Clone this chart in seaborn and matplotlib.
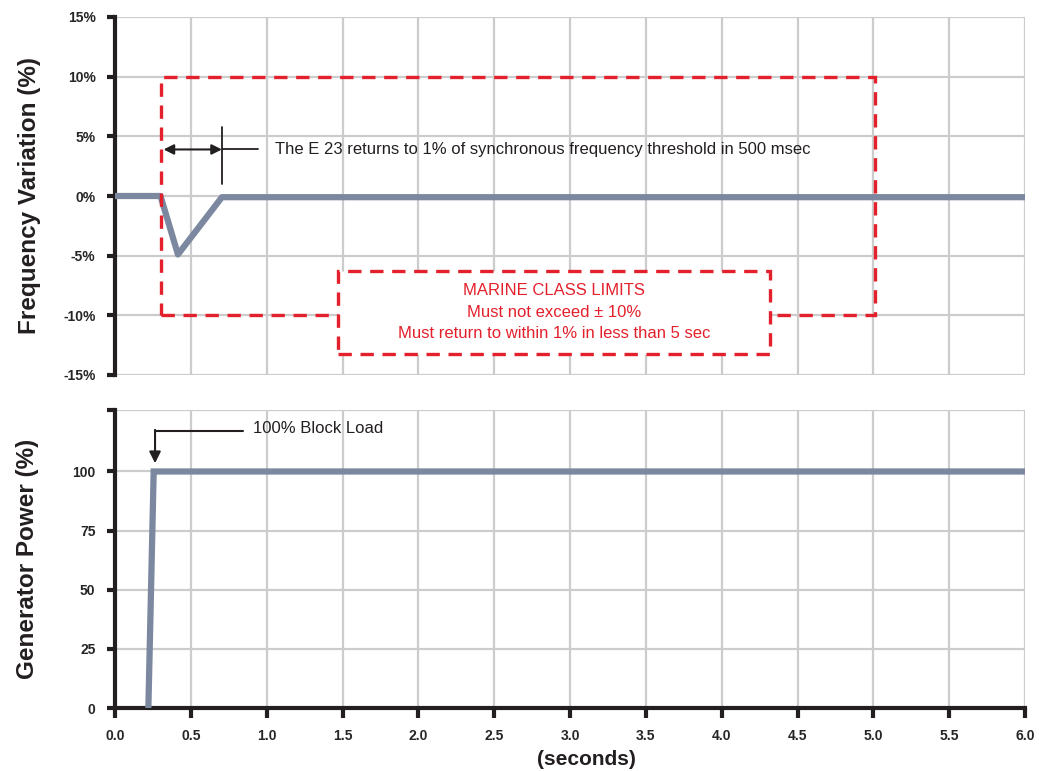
import matplotlib
matplotlib.use("Agg")
import matplotlib.pyplot as plt
import matplotlib.patches as patches
import numpy as np
import pandas as pd
import seaborn as sns

# data
time_freq = [0.0, 0.30, 0.415, 0.705, 6.0]
freq_var = [0.0, 0.0, -4.9, -0.1, -0.1]

time_power = [0.22, 0.255, 6.0]
gen_power = [0, 100, 100]

freq_ticks = [-15, -10, -5, 0, 5, 10, 15]
freq_labels = ["-15%", "-10%", "-5%", "0%", "5%", "10%", "15%"]
power_ticks = [0, 25, 50, 75, 100, 126]
power_labels = ["0", "25", "50", "75", "100", ""]
time_ticks = [0.0, 0.5, 1.0, 1.5, 2.0, 2.5, 3.0, 3.5, 4.0, 4.5, 5.0, 5.5, 6.0]

limit_box = (0.30, 5.01, -10, 10)      # marine class limits
text_box = (1.47, 4.32, -13.2, -6.3)   # label box

sns.set_style("white")
plt.rcParams["font.family"] = ["Liberation Sans Narrow", "Liberation Sans", "DejaVu Sans"]

line_col = "#7b889f"
red = "#e3202b"
grid_col = "#cccccc"
ink = "#231f20"

fig = plt.figure(figsize=(10.39, 7.71), dpi=100)
ax1 = fig.add_axes([115 / 1039, 1 - 375 / 771, 910 / 1039, 358 / 771])
ax2 = fig.add_axes([115 / 1039, 1 - 708 / 771, 910 / 1039, 298 / 771])

df_f = pd.DataFrame({"t": time_freq, "f": freq_var})
df_p = pd.DataFrame({"t": time_power, "p": gen_power})

for ax in (ax1, ax2):
    ax.set_xlim(0, 6)
    ax.set_xticks(time_ticks)
    ax.grid(True, color=grid_col, linewidth=1.6, zorder=0)
    ax.set_axisbelow(True)
    for s in ["top", "right"]:
        ax.spines[s].set_visible(False)
    ax.spines["left"].set_color(ink)
    ax.spines["left"].set_linewidth(3)
    ax.tick_params(axis="y", left=True, length=6, width=3, color=ink,
                   labelsize=10, pad=8)

# top panel
ax1.set_ylim(-15, 15)
ax1.set_yticks(freq_ticks)
ax1.set_yticklabels(freq_labels, fontweight="bold", fontsize=10)
ax1.spines["bottom"].set_visible(False)
ax1.tick_params(axis="x", length=0, labelbottom=False)
sns.lineplot(data=df_f, x="t", y="f", ax=ax1, color=line_col, linewidth=4.5,
             solid_joinstyle="round", solid_capstyle="butt", zorder=3)

x0, x1, y0, y1 = limit_box
ax1.add_patch(patches.Rectangle((x0, y0), x1 - x0, y1 - y0, fill=False,
                                edgecolor=red, linewidth=2.4,
                                linestyle=(0, (4, 2.6)), zorder=4))
bx0, bx1, by0, by1 = text_box
ax1.add_patch(patches.Rectangle((bx0, by0), bx1 - bx0, by1 - by0,
                                facecolor="white", edgecolor=red, linewidth=2.4,
                                linestyle=(0, (4, 2.6)), zorder=5))
ax1.text((bx0 + bx1) / 2, (by0 + by1) / 2,
         "MARINE CLASS LIMITS\nMust not exceed \u00b1 10%\nMust return to within 1% in less than 5 sec",
         color=red, ha="center", va="center", fontsize=12, linespacing=1.55,
         zorder=6)

ax1.annotate("", xy=(0.32, 3.9), xytext=(0.705, 3.9),
             arrowprops=dict(arrowstyle="<|-|>", color=ink, lw=1.5,
                             mutation_scale=15, shrinkA=0, shrinkB=0), zorder=6)
ax1.plot([0.705, 0.705], [1.0, 5.8], color=ink, lw=1.3, zorder=6)
ax1.plot([0.705, 0.94], [3.9, 3.9], color=ink, lw=1.3, zorder=6)
ax1.text(1.055, 3.9, "The E 23 returns to 1% of synchronous frequency threshold in 500 msec",
         ha="left", va="center", fontsize=12, color=ink, zorder=6)
ax1.set_xlabel("")
ax1.set_ylabel("Frequency Variation (%)", fontsize=17.5, fontweight="bold",
               color=ink, labelpad=16)

# bottom panel
ax2.set_ylim(0, 126)
ax2.set_yticks(power_ticks)
ax2.set_yticklabels(power_labels, fontweight="bold", fontsize=10)
ax2.spines["bottom"].set_color(ink)
ax2.spines["bottom"].set_linewidth(3)
ax2.tick_params(axis="x", bottom=True, length=7, width=3, color=ink,
                labelsize=10, pad=8)
for lbl in ax2.get_xticklabels():
    lbl.set_fontweight("bold")
sns.lineplot(data=df_p, x="t", y="p", ax=ax2, color=line_col, linewidth=4.5,
             solid_joinstyle="miter", zorder=3)

ax2.plot([0.264, 0.845], [117, 117], color=ink, lw=1.5, zorder=6)
ax2.annotate("", xy=(0.264, 103.5), xytext=(0.264, 117.6),
             arrowprops=dict(arrowstyle="-|>", color=ink, lw=1.5,
                             mutation_scale=17, shrinkA=0, shrinkB=0), zorder=6)
ax2.text(0.91, 118.3, "100% Block Load", ha="left", va="center", fontsize=12,
         color=ink, zorder=6)
ax2.set_xlabel("(seconds)", fontsize=15, fontweight="bold", color=ink)
ax2.xaxis.set_label_coords(0.518, -0.14)
ax2.set_ylabel("Generator Power (%)", fontsize=17.5, fontweight="bold",
               color=ink, labelpad=24)

fig.savefig("out.png", dpi=100, facecolor="white")
